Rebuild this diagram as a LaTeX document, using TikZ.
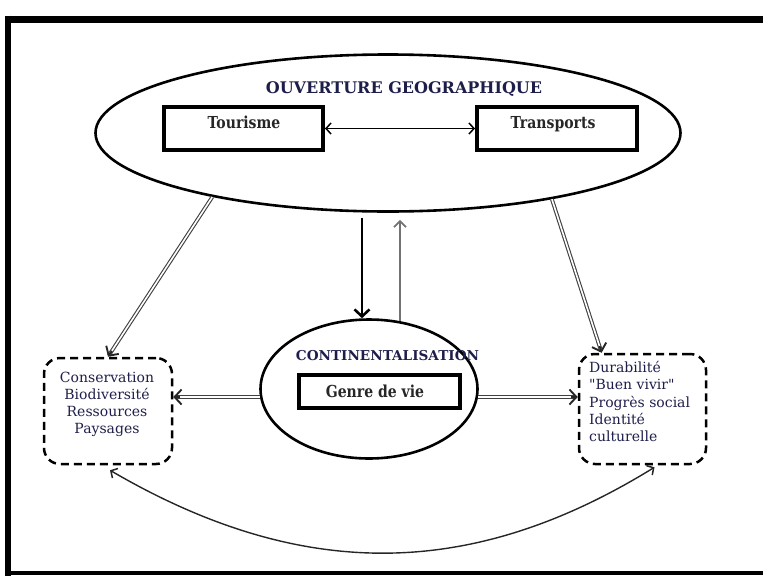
\documentclass[tikz,border=0pt]{standalone}
\usepackage{fontspec}
\setmainfont{DejaVu Serif}
\newfontfamily\narrowfont[FakeStretch=0.85]{DejaVu Serif}
\newfontfamily\listfont{DejaVu Serif}
\usetikzlibrary{shapes.geometric,arrows.meta,calc}
\definecolor{navy}{RGB}{30,30,75}
\definecolor{upgray}{RGB}{115,115,115}
\begin{document}
\begin{tikzpicture}[x=1pt,y=-1pt,
  bigell/.style={draw, ellipse, line width=2.6pt, inner sep=0pt},
  labelbox/.style={draw, rectangle, line width=4pt, inner sep=0pt},
  dashbox/.style={draw, rectangle, rounded corners=16pt, line width=2.5pt, dash pattern=on 8pt off 5pt, inner sep=0pt},
  headtxt/.style={text=navy, inner sep=0pt},
  boxtxt/.style={font=\narrowfont\fontsize{16.5}{20}\selectfont\bfseries, text=black!85, inner sep=0pt},
  listtxt/.style={font=\listfont\fontsize{14}{17.3}\selectfont, text=navy, inner sep=0pt},
  dblline/.style={draw=black!75, double=white, double distance=1.6pt, line width=1.1pt, shorten >=1.5pt},
  dbltip/.style={draw=black!85, line width=1.9pt, -{Straight Barb[length=7pt,width=15pt,line width=1.9pt]}},
  thinarrow/.style={draw=black!85, line width=1.4pt}
]
\useasboundingbox (0,0) rectangle (763,576);
% frame
\draw[line width=7pt] (5,19) -- (763,19);
\draw[line width=6pt] (8,15.5) -- (8,576);
\draw[line width=4pt] (5,573) -- (763,573);

% main nodes
\node[bigell, minimum width=585pt, minimum height=157pt] (ouv) at (388,133) {};
\node[bigell, minimum width=217pt, minimum height=139pt] (cont) at (369,389) {};
\node[labelbox, minimum width=159pt, minimum height=43pt] (tour) at (243.5,128.5) {};
\node[labelbox, minimum width=160pt, minimum height=43pt] (trans) at (557,128.5) {};
\node[labelbox, minimum width=161pt, minimum height=33pt] (genre) at (379.5,391.5) {};
\node[dashbox, minimum width=128pt, minimum height=106pt] (lbox) at (108,411) {};
\node[dashbox, minimum width=127pt, minimum height=110pt] (rbox) at (642.5,409) {};

% texts
\node[headtxt, font=\fontsize{16}{19}\selectfont\bfseries, anchor=base] (ouvt) at (404,93) {OUVERTURE GEOGRAPHIQUE};
\node[headtxt, font=\fontsize{13.6}{17}\selectfont\bfseries, anchor=base] (contt) at (387.5,360) {CONTINENTALISATION};
\node[boxtxt, anchor=base] (tourt) at (244,128) {Tourisme};
\node[boxtxt, anchor=base] (transt) at (553,128) {Transports};
\node[boxtxt, anchor=base] (genret) at (375,397) {Genre de vie};
\node[listtxt, align=center, anchor=north] (ltxt) at (107,371.5) {Conservation\\Biodiversité\\Ressources\\Paysages};
\node[listtxt, align=left, anchor=north west] (rtxt) at (589,361) {Durabilité\\"Buen vivir"\\Progrès social\\Identité\\culturelle};

% connectors
\draw[line width=1.5pt, {Straight Barb[length=5pt,width=11pt,line width=1.5pt]}-{Straight Barb[length=5pt,width=11pt,line width=1.5pt]}] (tour.east) -- (trans.west);
\draw[line width=2.8pt, -{Straight Barb[length=7pt,width=15pt,line width=2.6pt]}] ($(ouv.south)+(-26,5)$) -- ($(cont.north)+(-7,0)$);
\draw[upgray, line width=2pt, -{Straight Barb[length=6pt,width=12pt,line width=1.8pt]}] ($(cont.north)+(31,3)$) -- ($(ouv.south)+(12,7)$);

\draw[dblline] (ouv.200) -- (lbox.north);
\draw[dbltip] ($(lbox.north)!7pt!(ouv.200)$) -- (lbox.north);
\draw[dblline] (ouv.338) -- (rbox.126);
\draw[dbltip] ($(rbox.126)!7pt!(ouv.338)$) -- (rbox.126);
\draw[dblline] ($(cont.west)+(1,8)$) -- ($(lbox.east)+(0,-14)$);
\draw[dbltip] ($(lbox.east)+(7,-14)$) -- ($(lbox.east)+(0,-14)$);
\draw[dblline] ($(cont.east)+(-1,8)$) -- ($(rbox.west)+(0,-12)$);
\draw[dbltip] ($(rbox.west)+(-7,-12)$) -- ($(rbox.west)+(0,-12)$);

\draw[thinarrow, {Straight Barb[length=5pt,width=11pt,line width=1.5pt]}-{Straight Barb[length=5pt,width=11pt,line width=1.5pt]}]
  ($(lbox.south)+(2,5)$) .. controls (300,581) and (470,581) .. ($(rbox.south)+(12,2)$);
\end{tikzpicture}
\end{document}
